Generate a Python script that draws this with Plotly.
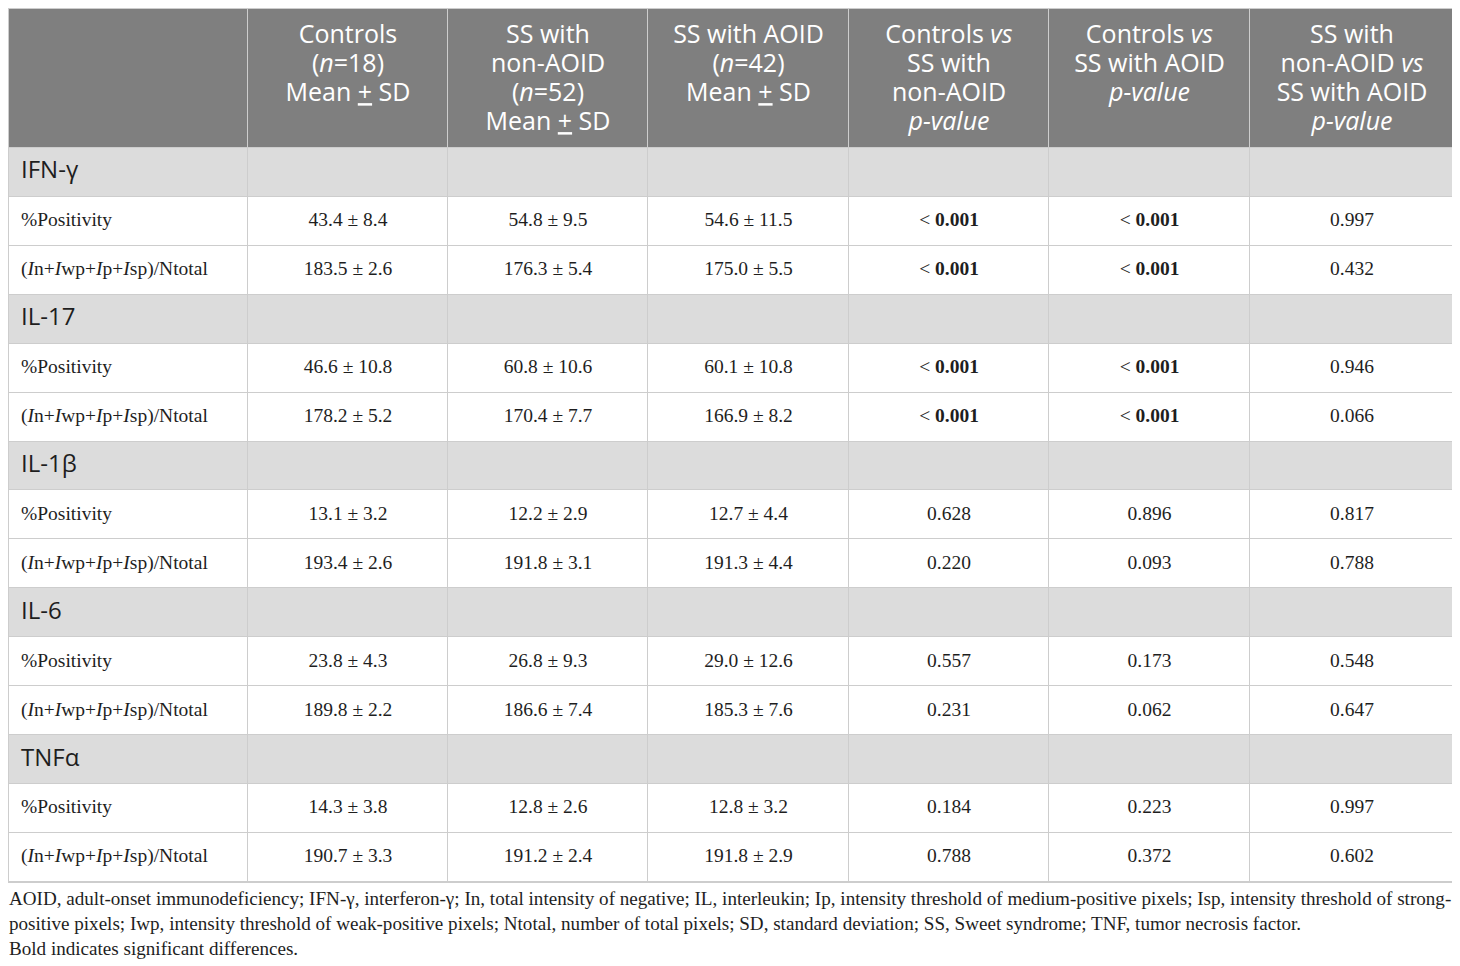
import plotly.graph_objects as go

markers = ["IFN-γ", "IL-17", "IL-1β", "IL-6", "TNFα"]
measures = ["%Positivity", "(<i>I</i>n+<i>I</i>wp+<i>I</i>p+<i>I</i>sp)/Ntotal"]

# one entry per (marker, measure) row, in table order
ctrl_mean = [43.4, 183.5, 46.6, 178.2, 13.1, 193.4, 23.8, 189.8, 14.3, 190.7]
ctrl_sd = [8.4, 2.6, 10.8, 5.2, 3.2, 2.6, 4.3, 2.2, 3.8, 3.3]
nonaoid_mean = [54.8, 176.3, 60.8, 170.4, 12.2, 191.8, 26.8, 186.6, 12.8, 191.2]
nonaoid_sd = [9.5, 5.4, 10.6, 7.7, 2.9, 3.1, 9.3, 7.4, 2.6, 2.4]
aoid_mean = [54.6, 175.0, 60.1, 166.9, 12.7, 191.3, 29.0, 185.3, 12.8, 191.8]
aoid_sd = [11.5, 5.5, 10.8, 8.2, 4.4, 4.4, 12.6, 7.6, 3.2, 2.9]
p_ctrl_nonaoid = ["< 0.001", "< 0.001", "< 0.001", "< 0.001", "0.628", "0.220", "0.557", "0.231", "0.184", "0.788"]
p_ctrl_aoid = ["< 0.001", "< 0.001", "< 0.001", "< 0.001", "0.896", "0.093", "0.173", "0.062", "0.223", "0.372"]
p_nonaoid_aoid = ["0.997", "0.432", "0.946", "0.066", "0.817", "0.788", "0.548", "0.647", "0.997", "0.602"]

headers = [
    "",
    "Controls<br>(<i>n</i>=18)<br>Mean <u>+</u> SD",
    "SS with<br>non-AOID<br>(<i>n</i>=52)<br>Mean <u>+</u> SD",
    "SS with AOID<br>(<i>n</i>=42)<br>Mean <u>+</u> SD",
    "Controls <i>vs</i><br>SS with<br>non-AOID<br><i>p-value</i>",
    "Controls <i>vs</i><br>SS with AOID<br><i>p-value</i>",
    "SS with<br>non-AOID <i>vs</i><br>SS with AOID<br><i>p-value</i>",
]

footnote = [
    "AOID, adult-onset immunodeficiency; IFN-γ, interferon-γ; In, total intensity of negative; IL, interleukin; "
    "Ip, intensity threshold of medium-positive pixels; Isp, intensity threshold of strong-",
    "positive pixels; Iwp, intensity threshold of weak-positive pixels; Ntotal, number of total pixels; "
    "SD, standard deviation; SS, Sweet syndrome; TNF, tumor necrosis factor.",
    "Bold indicates significant differences.",
]

# layout of the grid (pixels)
col_w = [239, 200, 200, 201, 200, 201, 204]
head_h = 139
row_h = 49
line_h = 29

SANS = "Open Sans"
SERIF = "Liberation Serif"
HEAD_BG = "rgb(127,127,127)"
CAT_BG = "rgb(220,220,220)"
LINE = "rgb(205,205,205)"
INK = "rgb(30,30,30)"


def pfmt(p):
    if p.startswith("<"):
        return "< <b>0.001</b>"
    return p


# rows: kind 2 = header, 1 = marker row, 0 = data row
rows = []
i = 0
for m in markers:
    rows.append((1, [m] + [""] * 6))
    for meas in measures:
        rows.append((0, [
            meas,
            f"{ctrl_mean[i]:.1f} ± {ctrl_sd[i]:.1f}",
            f"{nonaoid_mean[i]:.1f} ± {nonaoid_sd[i]:.1f}",
            f"{aoid_mean[i]:.1f} ± {aoid_sd[i]:.1f}",
            pfmt(p_ctrl_nonaoid[i]),
            pfmt(p_ctrl_aoid[i]),
            pfmt(p_nonaoid_aoid[i]),
        ]))
        i += 1

x_edges = [0]
for w in col_w:
    x_edges.append(x_edges[-1] + w)
y_edges = [0, head_h]
for _ in rows:
    y_edges.append(y_edges[-1] + row_h)
total_w, total_h = x_edges[-1], y_edges[-1]

z = [[2] * len(col_w)] + [[kind] * len(col_w) for kind, _ in rows]

# text points
tx, ty, tt, tpos, tfam, tsize, tcol = [], [], [], [], [], [], []
for c, h in enumerate(headers):
    if not h:
        continue
    for k, part in enumerate(h.split("<br>")):
        tx.append((x_edges[c] + x_edges[c + 1]) / 2)
        ty.append(28 + line_h * k)
        tt.append(part)
        tpos.append("middle center")
        tfam.append(SANS)
        tsize.append(25)
        tcol.append("white")

for r, (kind, vals) in enumerate(rows):
    yc = (y_edges[r + 1] + y_edges[r + 2]) / 2
    for c, v in enumerate(vals):
        if not v:
            continue
        if c == 0:
            tx.append(x_edges[0] + 12)
            tpos.append("middle right")
        else:
            tx.append((x_edges[c] + x_edges[c + 1]) / 2)
            tpos.append("middle center")
        ty.append(yc)
        tt.append(v)
        tfam.append(SANS if kind == 1 else SERIF)
        tsize.append(24 if kind == 1 else 19.5)
        tcol.append(INK)

fig = go.Figure()
fig.add_trace(go.Heatmap(
    x=x_edges, y=y_edges, z=z,
    zmin=0, zmax=2,
    colorscale=[[0, "white"], [0.5, CAT_BG], [1, HEAD_BG]],
    showscale=False, xgap=1, ygap=1, hoverinfo="skip",
))
fig.add_trace(go.Scatter(
    x=tx, y=ty, text=tt, mode="text", textposition=tpos,
    textfont=dict(family=tfam, size=tsize, color=tcol),
    hoverinfo="skip", showlegend=False,
))

# footnote below the grid, in paper units (plot area is ~1px per table unit)
for k, line in enumerate(footnote):
    fig.add_annotation(
        text=line, xref="paper", yref="paper",
        x=-2 / total_w, y=1 - (total_h + 17 + 25 * k) / total_h,
        xanchor="left", yanchor="middle", showarrow=False, align="left",
        font=dict(family=SERIF, size=19.1, color=INK),
    )

fig.update_xaxes(range=[0, total_w], showgrid=False, zeroline=False,
                 showticklabels=False, ticks="", showline=True, mirror=True,
                 linecolor=LINE, linewidth=1)
fig.update_yaxes(range=[total_h, 0], showgrid=False, zeroline=False,
                 showticklabels=False, ticks="", showline=True, mirror=True,
                 linecolor=LINE, linewidth=1)

# the page adds an 8px body margin, so the figure is sized to fit what is left
fig.update_layout(
    width=1452, height=958,
    margin=dict(l=1, r=6, t=1, b=84),
    paper_bgcolor="white",
    plot_bgcolor=LINE,
    showlegend=False,
)

fig.write_html("out.html")
